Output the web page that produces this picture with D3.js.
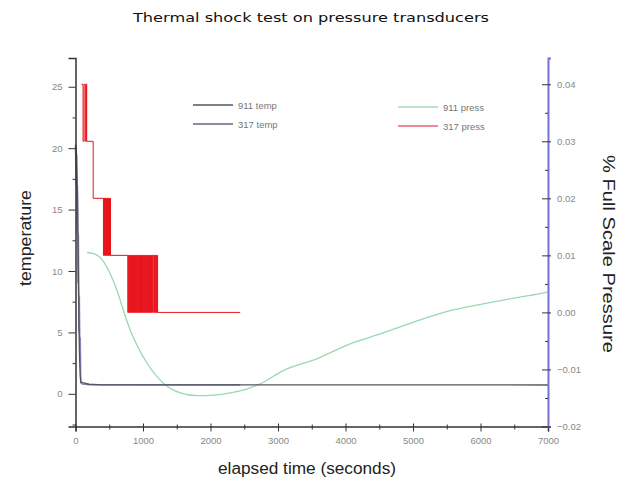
<!DOCTYPE html>
<html>
<head>
<meta charset="utf-8">
<script src="https://cdn.jsdelivr.net/npm/d3@7"></script>
<style>
  html, body { margin: 0; padding: 0; background: #fff; }
  svg { display: block; font-family: "Liberation Sans", Arial, sans-serif; }
</style>
</head>
<body>
<svg id="chart" width="629" height="482"></svg>
<script>
// ---- data -------------------------------------------------------------
// temperature readings (left axis, deg) vs elapsed time (s)
const temp911Time = [0, 15, 30, 40, 50, 60, 70, 80, 120, 200, 400, 7000];
const temp911Val  = [20.3, 19.5, 16, 11, 6, 3, 1.5, 0.95, 0.9, 0.78, 0.73, 0.72];

const temp317Time = [0, 10, 14, 24, 28, 38, 42, 52, 56, 66, 70, 76, 80, 100, 200, 2440];
const temp317Val  = [20.2, 17, 19.5, 13, 17, 9, 13, 5, 8, 2.5, 4.6, 1.2, 0.9, 0.8, 0.75, 0.73];

// pressure readings (right axis, % full scale) vs elapsed time (s)
const press911Time = [170, 266, 370, 562, 814, 1066, 1302, 1554, 1806, 2042, 2294, 2545, 2738, 3078, 3581, 4070, 4558, 5061, 5550, 6038, 6541, 6882, 7000];
const press911Val  = [0.0105, 0.0103, 0.0096, 0.0055, -0.0032, -0.0090, -0.0124, -0.0141, -0.0146, -0.0145, -0.0141, -0.0134, -0.0125, -0.0102, -0.0081, -0.0055, -0.0036, -0.0015, 0.0003, 0.0015, 0.0026, 0.0033, 0.0036];

// 317 pressure is quantised to 0.01 steps and flickers between adjacent levels
const press317Time = [
  88, 112, 128, 150, 160, 166,
  262,
  414, 420, 426, 432, 438, 444, 450, 456, 462, 468, 474, 480, 486, 492, 498, 504, 510, 514, 518,
  775, 782, 789, 796, 803, 810, 817, 824, 831, 838, 845, 852, 859, 866, 873, 880,
  887, 894, 901, 908, 915, 922, 929, 936, 943, 950, 957, 964, 971, 978, 985, 992,
  999, 1006, 1013, 1020, 1027, 1034, 1041, 1048, 1055, 1062, 1069, 1076, 1083, 1090, 1097, 1104,
  1111, 1118, 1125, 1132, 1139, 1146, 1160, 1167, 1174, 1181, 1188, 1195, 1202, 1209, 1216, 1223,
  2440
];
const press317Val = [
  0.04, 0.03, 0.04, 0.03, 0.04, 0.03,
  0.02,
  0.01, 0.02, 0.01, 0.02, 0.01, 0.02, 0.01, 0.02, 0.01, 0.02, 0.01, 0.02, 0.01, 0.02, 0.01, 0.02, 0.01, 0.02, 0.01,
  0.00, 0.01, 0.00, 0.01, 0.00, 0.01, 0.00, 0.01, 0.00, 0.01, 0.00, 0.01, 0.00, 0.01, 0.00, 0.01,
  0.00, 0.01, 0.00, 0.01, 0.00, 0.01, 0.00, 0.01, 0.00, 0.01, 0.00, 0.01, 0.00, 0.01, 0.00, 0.01,
  0.00, 0.01, 0.00, 0.01, 0.00, 0.01, 0.00, 0.01, 0.00, 0.01, 0.00, 0.01, 0.00, 0.01, 0.00, 0.01,
  0.00, 0.01, 0.00, 0.01, 0.00, 0.01, 0.00, 0.01, 0.00, 0.01, 0.00, 0.01, 0.00, 0.01, 0.00, 0.00,
  0.00
];

// axis ticks
const xTicks = [0, 1000, 2000, 3000, 4000, 5000, 6000, 7000];
const xMinor = [500, 1500, 2500, 3500, 4500, 5500, 6500];
const yLeftTicks = [0, 5, 10, 15, 20, 25];
const yLeftMinor = [-2.5, 2.5, 7.5, 12.5, 17.5, 22.5];
const yRightTicks = [-0.02, -0.01, 0.00, 0.01, 0.02, 0.03, 0.04];
const yRightMinor = [-0.015, -0.005, 0.005, 0.015, 0.025, 0.035];

const legendItems = [
  { label: "911 temp",  color: "#555560", col: 0, row: 0 },
  { label: "317 temp",  color: "#666680", col: 0, row: 1 },
  { label: "911 press", color: "#a8dcb4", col: 1, row: 0 },
  { label: "317 press", color: "#e8607a", col: 1, row: 1 }
];

// ---- layout -----------------------------------------------------------
const svg = d3.select("#chart");
const plotLeft = 75.5, plotRight = 548, plotTop = 58, plotBottom = 426.5;

const x = d3.scaleLinear().domain([0, 7000]).range([plotLeft, plotRight]);
const yL = d3.scaleLinear().domain([-2.66, 27.34]).range([plotBottom, plotTop]);
const yR = d3.scaleLinear().domain([-0.02, 0.0446]).range([plotBottom, plotTop]);

const zip = (t, v) => t.map((d, i) => [d, v[i]]);

// ---- series -----------------------------------------------------------
const g = svg.append("g");

g.append("path")
  .datum(zip(press911Time, press911Val))
  .attr("fill", "none").attr("stroke", "#9ad8b0").attr("stroke-width", 1.3)
  .attr("d", d3.line().x(d => x(d[0])).y(d => yR(d[1])).curve(d3.curveMonotoneX));

g.append("path")
  .datum(zip(press317Time, press317Val))
  .attr("fill", "none").attr("stroke", "#e8141c").attr("stroke-width", 1)
  .attr("d", d3.line().x(d => x(d[0])).y(d => yR(d[1])).curve(d3.curveStepAfter));

g.append("path")
  .datum(zip(temp317Time, temp317Val))
  .attr("fill", "none").attr("stroke", "#8585bb").attr("stroke-width", 1.6)
  .attr("d", d3.line().x(d => x(d[0])).y(d => yL(d[1])));

g.append("path")
  .datum(zip(temp911Time, temp911Val))
  .attr("fill", "none").attr("stroke", "#555560").attr("stroke-width", 1.3)
  .attr("d", d3.line().x(d => x(d[0])).y(d => yL(d[1])));

// ---- axes -------------------------------------------------------------
const tickText = sel => sel.selectAll("text")
  .attr("fill", "#888").style("font-size", "9.5px");

// bottom axis
const xAxis = svg.append("g").attr("transform", `translate(0,${plotBottom})`)
  .call(d3.axisBottom(x).tickValues(xTicks).tickFormat(d3.format("d")).tickSize(5).tickPadding(6));
xAxis.select(".domain").attr("stroke", "#333").attr("stroke-width", 1.5);
xAxis.selectAll(".tick line").attr("stroke", "#333").attr("y1", -3);
xAxis.call(tickText);
svg.append("g").attr("transform", `translate(0,${plotBottom})`)
  .call(d3.axisBottom(x).tickValues(xMinor).tickFormat("").tickSize(3))
  .call(s => s.select(".domain").remove())
  .selectAll(".tick line").attr("stroke", "#333").attr("y1", -2);

// left axis
const yAxisL = svg.append("g").attr("transform", `translate(${plotLeft},0)`)
  .call(d3.axisLeft(yL).tickValues(yLeftTicks).tickFormat(d3.format("d")).tickSize(7).tickPadding(6));
yAxisL.select(".domain").attr("stroke", "#333").attr("stroke-width", 1.5);
yAxisL.selectAll(".tick line").attr("stroke", "#333");
yAxisL.call(tickText);
svg.append("g").attr("transform", `translate(${plotLeft},0)`)
  .call(d3.axisLeft(yL).tickValues(yLeftMinor).tickFormat("").tickSize(3))
  .call(s => s.select(".domain").remove())
  .selectAll(".tick line").attr("stroke", "#333");

// right axis
const yAxisR = svg.append("g").attr("transform", `translate(${plotRight},0)`)
  .call(d3.axisRight(yR).tickValues(yRightTicks).tickFormat(d3.format(".2f")).tickSize(3).tickPadding(6));
yAxisR.select(".domain").attr("stroke", "#7272d0").attr("stroke-width", 2);
yAxisR.selectAll(".tick line").attr("stroke", "#333").attr("x1", -6);
yAxisR.call(tickText);
svg.append("g").attr("transform", `translate(${plotRight},0)`)
  .call(d3.axisRight(yR).tickValues(yRightMinor).tickFormat("").tickSize(0))
  .call(s => s.select(".domain").remove())
  .selectAll(".tick line").attr("stroke", "#333").attr("x1", -3);

// ---- titles -----------------------------------------------------------
svg.append("text").attr("x", 311).attr("y", 22).attr("text-anchor", "middle")
  .attr("fill", "#111").style("font-size", "13px").style("font-family", "'DejaVu Sans', sans-serif")
  .attr("textLength", 356).attr("lengthAdjust", "spacingAndGlyphs")
  .text("Thermal shock test on pressure transducers");

svg.append("text").attr("x", 307).attr("y", 474).attr("text-anchor", "middle")
  .attr("fill", "#222").style("font-size", "16px")
  .attr("textLength", 178).attr("lengthAdjust", "spacingAndGlyphs")
  .text("elapsed time (seconds)");

svg.append("text").attr("transform", "translate(31,238) rotate(-90)")
  .attr("text-anchor", "middle").attr("fill", "#222").style("font-size", "16px")
  .attr("textLength", 96).attr("lengthAdjust", "spacingAndGlyphs")
  .text("temperature");

svg.append("text").attr("transform", "translate(603,254) rotate(90)")
  .attr("text-anchor", "middle").attr("fill", "#222").style("font-size", "16px")
  .attr("textLength", 198).attr("lengthAdjust", "spacingAndGlyphs")
  .text("% Full Scale Pressure");

// ---- legend -----------------------------------------------------------
const colX = [193, 398], rowY = [105, 124];
const leg = svg.append("g").selectAll("g").data(legendItems).join("g")
  .attr("transform", d => `translate(${colX[d.col]},${rowY[d.row] + (d.col ? 2 : 0)})`);
leg.append("line").attr("x1", 0).attr("x2", 40).attr("y1", 0).attr("y2", 0)
  .attr("stroke", d => d.color).attr("stroke-width", 1.3);
leg.append("text").attr("x", 45).attr("y", 3.5).attr("fill", "#777")
  .style("font-size", "9.5px").text(d => d.label);
</script>
</body>
</html>
